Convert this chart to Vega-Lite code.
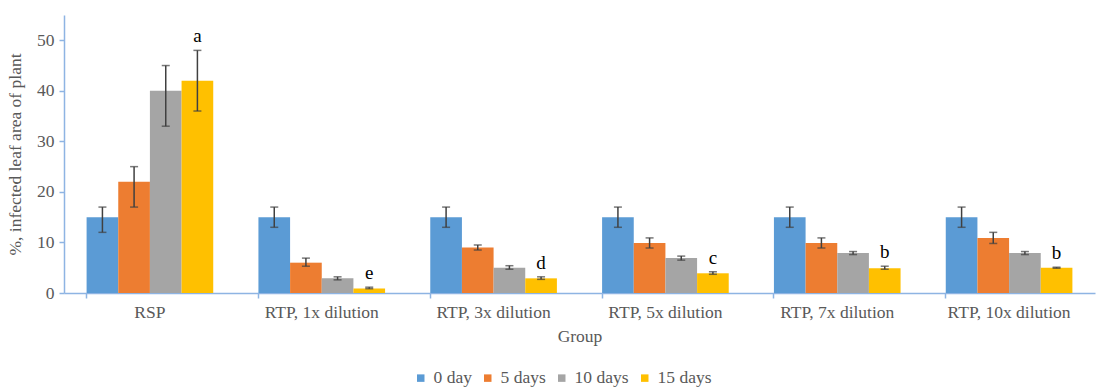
{
  "$schema": "https://vega.github.io/schema/vega-lite/v6.json",
  "width": 1031,
  "height": 278,
  "autosize": {"type": "none"},
  "padding": {"left": 64, "top": 15, "right": 4, "bottom": 94},
  "background": "white",
  "config": {
    "view": {"stroke": null},
    "font": "Liberation Serif",
    "axis": {"grid": false, "domainColor": "#8EB4E3", "tickColor": "#8EB4E3", "domainWidth": 1.5, "tickWidth": 1.5},
    "legend": {"labelFont": "Liberation Serif"}
  },
  "data": {
    "values": [
      {"group": "RSP", "day": "0 day", "value": 15, "lo": 12, "hi": 17, "label": ""},
      {"group": "RSP", "day": "5 days", "value": 22, "lo": 17, "hi": 25, "label": ""},
      {"group": "RSP", "day": "10 days", "value": 40, "lo": 33, "hi": 45, "label": ""},
      {"group": "RSP", "day": "15 days", "value": 42, "lo": 36, "hi": 48, "label": "a"},
      {"group": "RTP, 1x dilution", "day": "0 day", "value": 15, "lo": 13, "hi": 17, "label": ""},
      {"group": "RTP, 1x dilution", "day": "5 days", "value": 6, "lo": 5.3, "hi": 6.9, "label": ""},
      {"group": "RTP, 1x dilution", "day": "10 days", "value": 2.9, "lo": 2.6, "hi": 3.2, "label": ""},
      {"group": "RTP, 1x dilution", "day": "15 days", "value": 0.9, "lo": 0.85, "hi": 1.15, "label": "e"},
      {"group": "RTP, 3x dilution", "day": "0 day", "value": 15, "lo": 13, "hi": 17, "label": ""},
      {"group": "RTP, 3x dilution", "day": "5 days", "value": 9, "lo": 8.5, "hi": 9.5, "label": ""},
      {"group": "RTP, 3x dilution", "day": "10 days", "value": 5, "lo": 4.7, "hi": 5.4, "label": ""},
      {"group": "RTP, 3x dilution", "day": "15 days", "value": 2.9, "lo": 2.7, "hi": 3.2, "label": "d"},
      {"group": "RTP, 5x dilution", "day": "0 day", "value": 15, "lo": 13, "hi": 17, "label": ""},
      {"group": "RTP, 5x dilution", "day": "5 days", "value": 9.9, "lo": 8.9, "hi": 10.9, "label": ""},
      {"group": "RTP, 5x dilution", "day": "10 days", "value": 6.9, "lo": 6.5, "hi": 7.3, "label": ""},
      {"group": "RTP, 5x dilution", "day": "15 days", "value": 3.9, "lo": 3.7, "hi": 4.2, "label": "c"},
      {"group": "RTP, 7x dilution", "day": "0 day", "value": 15, "lo": 13, "hi": 17, "label": ""},
      {"group": "RTP, 7x dilution", "day": "5 days", "value": 9.9, "lo": 8.9, "hi": 10.9, "label": ""},
      {"group": "RTP, 7x dilution", "day": "10 days", "value": 7.9, "lo": 7.6, "hi": 8.2, "label": ""},
      {"group": "RTP, 7x dilution", "day": "15 days", "value": 4.9, "lo": 4.7, "hi": 5.3, "label": "b"},
      {"group": "RTP, 10x dilution", "day": "0 day", "value": 15, "lo": 13, "hi": 17, "label": ""},
      {"group": "RTP, 10x dilution", "day": "5 days", "value": 10.9, "lo": 9.8, "hi": 12, "label": ""},
      {"group": "RTP, 10x dilution", "day": "10 days", "value": 7.9, "lo": 7.6, "hi": 8.2, "label": ""},
      {"group": "RTP, 10x dilution", "day": "15 days", "value": 5, "lo": 4.9, "hi": 5.1, "label": "b"}
    ]
  },
  "encoding": {
    "x": {"field": "group", "type": "nominal", "sort": null,
      "scale": {"paddingInner": 0.263, "paddingOuter": 0.1315},
      "axis": {"title": "Group", "labelAngle": 0, "ticks": true, "tickSize": 5, "bandPosition": 0, "labelPadding": 5, "titlePadding": 7,
        "labelFont": "Liberation Serif", "titleFont": "Liberation Serif", "labelFontSize": 17.5, "titleFontSize": 17.5, "titleFontWeight": "normal", "labelColor": "#595959", "titleColor": "#595959"}},
    "xOffset": {"field": "day", "type": "nominal", "sort": ["0 day", "5 days", "10 days", "15 days"], "scale": {"paddingInner": 0, "paddingOuter": 0}}
  },
  "layer": [
    {
      "mark": {"type": "bar"},
      "encoding": {
        "y": {"field": "value", "type": "quantitative", "scale": {"domain": [0, 55], "nice": false},
          "axis": {"title": "%, infected leaf area of plant", "values": [0, 10, 20, 30, 40, 50], "tickSize": 5, "labelPadding": 5, "titlePadding": 12,
            "labelFont": "Liberation Serif", "titleFont": "Liberation Serif", "labelFontSize": 17.5, "titleFontSize": 17.5, "titleFontWeight": "normal", "labelColor": "#595959", "titleColor": "#595959"}},
        "color": {"field": "day", "type": "nominal", "sort": ["0 day", "5 days", "10 days", "15 days"],
          "scale": {"domain": ["0 day", "5 days", "10 days", "15 days"], "range": ["#5B9BD5", "#ED7D31", "#A5A5A5", "#FFC000"]},
          "legend": {"title": null, "orient": "none", "legendX": 348, "legendY": 354, "direction": "horizontal", "symbolType": "square", "symbolSize": 56, "symbolStrokeWidth": 0, "labelFontSize": 17.5, "labelColor": "#595959", "labelFont": "Liberation Serif", "columnPadding": 7, "symbolOffset": 0, "labelOffset": 4}}
      }
    },
    {
      "mark": {"type": "rule", "color": "#404040", "strokeWidth": 1.5},
      "encoding": {
        "y": {"field": "lo", "type": "quantitative"},
        "y2": {"field": "hi"}
      }
    },
    {
      "mark": {"type": "tick", "color": "#404040", "thickness": 1.5, "size": 8},
      "encoding": {"y": {"field": "lo", "type": "quantitative"}}
    },
    {
      "mark": {"type": "tick", "color": "#404040", "thickness": 1.5, "size": 8},
      "encoding": {"y": {"field": "hi", "type": "quantitative"}}
    },
    {
      "mark": {"type": "text", "font": "Liberation Serif", "fontSize": 19, "color": "#000000", "baseline": "bottom", "dy": -4},
      "encoding": {
        "y": {"field": "hi", "type": "quantitative"},
        "text": {"field": "label"}
      }
    }
  ]
}
